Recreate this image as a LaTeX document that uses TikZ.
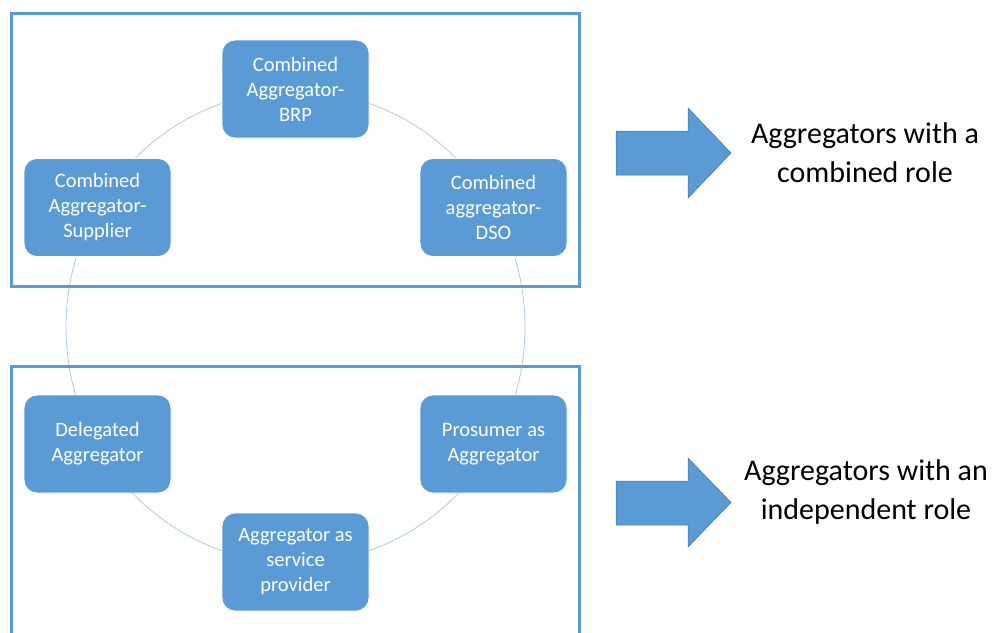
\documentclass[tikz,border=0pt]{standalone}
\usepackage{fontspec}
\setmainfont{Carlito}
\usetikzlibrary{shapes.arrows}
\definecolor{accent}{HTML}{5B9BD5}
\definecolor{accentdark}{HTML}{41719C}
\definecolor{ringline}{HTML}{A9CBEA}
\tikzset{
  rolebox/.style={draw=white, line width=0.8pt, fill=accent, rounded corners=13pt,
    minimum width=147pt, minimum height=98pt, inner sep=2pt, align=center,
    text=white, font=\fontsize{20.5pt}{25pt}\selectfont},
  frameline/.style={draw=accent, line width=3pt},
  ring/.style={draw=ringline, line width=0.8pt},
  bigarrow/.style={fill=accent, draw=accentdark, line width=0.5pt},
  rolelabel/.style={align=center, text=black, font=\fontsize{30pt}{39pt}\selectfont}
}
\begin{document}
\begin{tikzpicture}[x=1pt,y=-1pt]
\useasboundingbox (0,0) rectangle (996,632);
% cycle ring
\coordinate (ringc) at (295.5,327);
\draw[ring] (ringc) ellipse [x radius=229.5pt, y radius=236pt];
% frames
\draw[frameline] (11.5,13) rectangle (579,286);
\draw[frameline] (11.5,640) -- (11.5,366) -- (579,366) -- (579,640);
% role boxes
\node[rolebox] (brp) at (295.5,89) {Combined\\Aggregator-\\BRP};
\node[rolebox] (sup) at (97.5,207.5) {Combined\\Aggregator-\\Supplier};
\node[rolebox] (dso) at (493.5,207.5) {Combined\\aggregator-\\DSO};
\node[rolebox] (del) at (97.5,444) {Delegated\\Aggregator};
\node[rolebox] (pro) at (493.5,444) {Prosumer as\\Aggregator};
\node[rolebox] (svc) at (295.5,562) {Aggregator as\\service\\provider};
% block arrows
\draw[bigarrow] (616,131) -- (688,131) -- (688,108) -- (731,153) -- (688,198) -- (688,175) -- (616,175) -- cycle;
\draw[bigarrow] (616,481) -- (688,481) -- (688,458) -- (731,502.5) -- (688,547) -- (688,525) -- (616,525) -- cycle;
% labels
\node[rolelabel] (lab1) at (865,153) {Aggregators with a\\combined role};
\node[rolelabel] (lab2) at (866,492) {Aggregators with an\\independent role};
\end{tikzpicture}
\end{document}
